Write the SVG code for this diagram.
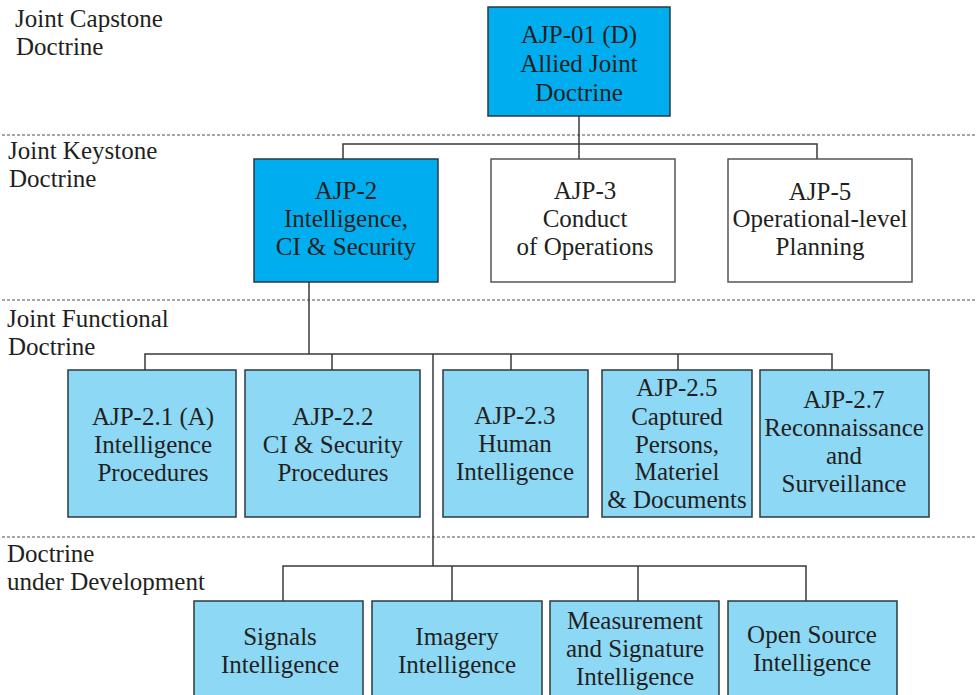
<svg xmlns="http://www.w3.org/2000/svg" width="976" height="695" viewBox="0 0 976 695">
  <style>
    text { font-family: 'Liberation Serif', 'Times New Roman', serif; font-size: 25px; fill: #231f20; }
    .nd text { text-anchor: middle; }
    .box { stroke: #2b3940; stroke-width: 1.5; }
    .dark { fill: #00aeef; }
    .light { fill: #8dd8f5; }
    .plain { fill: #ffffff; stroke: #555555; }
    .band { stroke: #8a8a8a; stroke-width: 1.5; stroke-dasharray: 3 2; fill: none; }
    .wire { stroke: #3a3a3a; stroke-width: 1.5; fill: none; }
  </style>
  <rect width="976" height="695" fill="#ffffff"/>

  <!-- level separators -->
  <g id="bands">
    <line class="band" x1="2" y1="135" x2="976" y2="135"/>
    <line class="band" x1="2" y1="300" x2="976" y2="300"/>
    <line class="band" x1="2" y1="537" x2="976" y2="537"/>
  </g>

  <!-- level labels -->
  <g id="labels">
    <text x="15" y="27">Joint Capstone</text>
    <text x="16" y="55">Doctrine</text>
    <text x="8" y="159">Joint Keystone</text>
    <text x="9" y="187">Doctrine</text>
    <text x="7" y="327">Joint Functional</text>
    <text x="8" y="355">Doctrine</text>
    <text x="7" y="562">Doctrine</text>
    <text x="7" y="590">under Development</text>
  </g>

  <!-- connectors -->
  <g id="connectors">
    <path class="wire" d="M579 116 V159 M343 159 V144 H817 V159"/>
    <path class="wire" d="M309 282 V354 M145 370 V354 H832 V370 M332 354 V370 M511 354 V370 M678 354 V370"/>
    <path class="wire" d="M433 354 V566 M283 601 V566 H806 V601 M452 566 V601 M638 566 V601"/>
  </g>

  <g class="nd">
  <!-- capstone -->
  <g id="ajp-01">
    <rect class="box dark" x="488" y="7" width="182" height="109"/>
    <text x="579" y="43">AJP-01 (D)</text>
    <text x="579" y="72">Allied Joint</text>
    <text x="579" y="101">Doctrine</text>
  </g>

  <!-- keystone -->
  <g id="ajp-2">
    <rect class="box dark" x="254" y="159" width="184" height="123"/>
    <text x="346" y="199">AJP-2</text>
    <text x="346" y="227">Intelligence,</text>
    <text x="346" y="255">CI &amp; Security</text>
  </g>
  <g id="ajp-3">
    <rect class="box plain" x="491" y="159" width="184" height="123"/>
    <text x="585" y="199">AJP-3</text>
    <text x="585" y="227">Conduct</text>
    <text x="585" y="255">of Operations</text>
  </g>
  <g id="ajp-5">
    <rect class="box plain" x="728" y="159" width="184" height="123"/>
    <text x="820" y="200">AJP-5</text>
    <text x="820" y="227">Operational-level</text>
    <text x="820" y="255">Planning</text>
  </g>

  <!-- functional -->
  <g id="ajp-2-1">
    <rect class="box light" x="68" y="370" width="168" height="147"/>
    <text x="153" y="425">AJP-2.1 (A)</text>
    <text x="153" y="453">Intelligence</text>
    <text x="153" y="481">Procedures</text>
  </g>
  <g id="ajp-2-2">
    <rect class="box light" x="245" y="370" width="175" height="147"/>
    <text x="333" y="425">AJP-2.2</text>
    <text x="333" y="453">CI &amp; Security</text>
    <text x="333" y="481">Procedures</text>
  </g>
  <g id="ajp-2-3">
    <rect class="box light" x="443" y="370" width="145" height="147"/>
    <text x="515" y="424">AJP-2.3</text>
    <text x="515" y="452">Human</text>
    <text x="515" y="480">Intelligence</text>
  </g>
  <g id="ajp-2-5">
    <rect class="box light" x="602" y="370" width="150" height="147"/>
    <text x="677" y="396">AJP-2.5</text>
    <text x="677" y="425">Captured</text>
    <text x="677" y="453">Persons,</text>
    <text x="677" y="480">Materiel</text>
    <text x="677" y="508">&amp; Documents</text>
  </g>
  <g id="ajp-2-7">
    <rect class="box light" x="760" y="370" width="169" height="147"/>
    <text x="844" y="408">AJP-2.7</text>
    <text x="844" y="436">Reconnaissance</text>
    <text x="844" y="464">and</text>
    <text x="844" y="492">Surveillance</text>
  </g>

  <!-- under development -->
  <g id="sigint">
    <rect class="box light" x="194" y="601" width="169" height="120"/>
    <text x="280" y="645">Signals</text>
    <text x="280" y="673">Intelligence</text>
  </g>
  <g id="imint">
    <rect class="box light" x="372" y="601" width="170" height="120"/>
    <text x="457" y="645">Imagery</text>
    <text x="457" y="673">Intelligence</text>
  </g>
  <g id="masint">
    <rect class="box light" x="550" y="601" width="169" height="120"/>
    <text x="635" y="629">Measurement</text>
    <text x="635" y="657">and Signature</text>
    <text x="635" y="685">Intelligence</text>
  </g>
  <g id="osint">
    <rect class="box light" x="728" y="601" width="169" height="120"/>
    <text x="812" y="643">Open Source</text>
    <text x="812" y="671">Intelligence</text>
  </g>
  </g>
</svg>
